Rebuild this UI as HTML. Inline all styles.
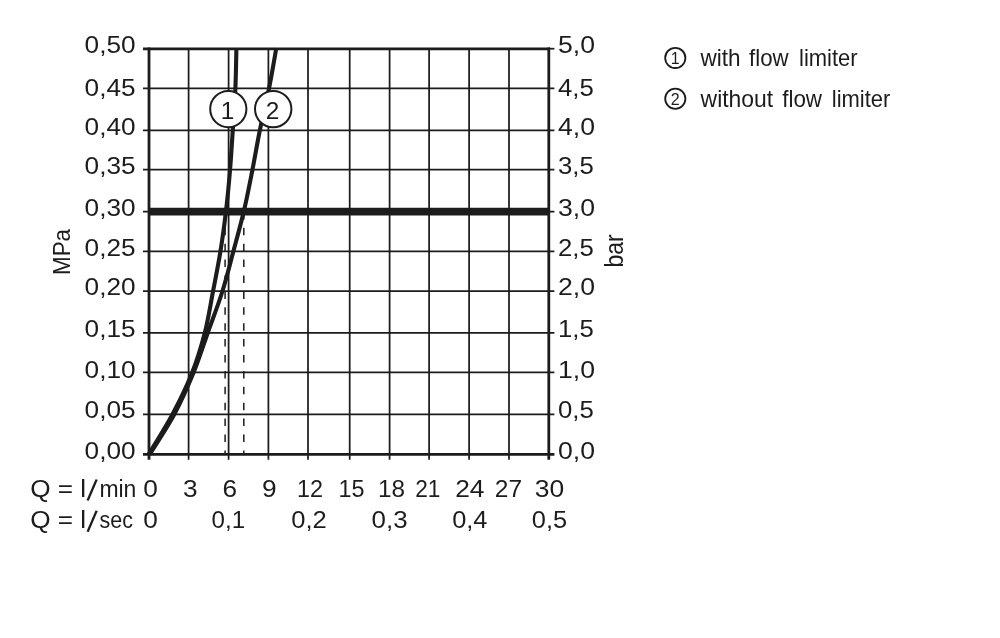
<!DOCTYPE html>
<html lang="en"><head><meta charset="utf-8"><title>Flow diagram</title>
<style>html,body{margin:0;padding:0;background:#fff;}svg{display:block;}text{font-family:'Liberation Sans', sans-serif;fill:#1c1c1c;}</style>
</head><body>
<svg width="1000" height="638" viewBox="0 0 1000 638">
<rect width="1000" height="638" fill="#fff"/>
<g stroke="#1c1c1c" stroke-width="1.75" fill="none">
<line x1="143.0" y1="88.40" x2="554.4" y2="88.40"/>
<line x1="143.0" y1="130.30" x2="554.4" y2="130.30"/>
<line x1="143.0" y1="169.50" x2="554.4" y2="169.50"/>
<line x1="143.0" y1="211.60" x2="554.4" y2="211.60"/>
<line x1="143.0" y1="251.30" x2="554.4" y2="251.30"/>
<line x1="143.0" y1="291.10" x2="554.4" y2="291.10"/>
<line x1="143.0" y1="332.90" x2="554.4" y2="332.90"/>
<line x1="143.0" y1="372.40" x2="554.4" y2="372.40"/>
<line x1="143.0" y1="414.40" x2="554.4" y2="414.40"/>
<line x1="188.6" y1="48.80" x2="188.6" y2="459.70"/>
<line x1="228.6" y1="48.80" x2="228.6" y2="459.70"/>
<line x1="268.4" y1="48.80" x2="268.4" y2="459.70"/>
<line x1="308.0" y1="48.80" x2="308.0" y2="459.70"/>
<line x1="349.7" y1="48.80" x2="349.7" y2="459.70"/>
<line x1="389.6" y1="48.80" x2="389.6" y2="459.70"/>
<line x1="429.1" y1="48.80" x2="429.1" y2="459.70"/>
<line x1="469.1" y1="48.80" x2="469.1" y2="459.70"/>
<line x1="509.0" y1="48.80" x2="509.0" y2="459.70"/>
</g>
<g stroke="#1c1c1c" fill="none">
<line x1="143.0" y1="48.80" x2="550.0" y2="48.80" stroke-width="2.8"/>
<line x1="143.0" y1="454.40" x2="554.4" y2="454.40" stroke-width="2.8"/>
<line x1="149.0" y1="47.50" x2="149.0" y2="459.70" stroke-width="2.8"/>
<line x1="548.8" y1="47.50" x2="548.8" y2="459.70" stroke-width="2.8"/>
</g>
<line x1="548.8" y1="48.70" x2="554.4" y2="48.70" stroke="#1c1c1c" stroke-width="1.75"/>
<line x1="149.0" y1="211.70" x2="548.8" y2="211.70" stroke="#1c1c1c" stroke-width="7.8"/>
<g stroke="#1c1c1c" stroke-width="1.5" stroke-dasharray="7.5 8.4" fill="none">
<line x1="225.1" y1="211.9" x2="225.1" y2="454.4"/>
<line x1="243.8" y1="211.9" x2="243.8" y2="454.4"/>
</g>
<g stroke="#1c1c1c" stroke-width="4.1" fill="none" stroke-linejoin="round">
<path d="M148.60 454.50 C152.57 447.83 165.17 428.08 172.40 414.50 C179.63 400.92 186.60 386.63 192.00 373.00 C197.40 359.37 201.32 346.20 204.80 332.70 C208.28 319.20 210.30 305.52 212.90 292.00 C215.50 278.48 218.22 265.10 220.40 251.60 C222.58 238.10 224.40 224.53 226.00 211.00 C227.60 197.47 228.87 183.98 230.00 170.40 C231.13 156.82 231.90 143.23 232.80 129.50 C233.70 115.77 234.80 101.55 235.40 88.00 C236.00 74.45 236.23 54.83 236.40 48.20"/>
<path d="M149.60 454.50 C153.70 447.83 166.90 428.08 174.20 414.50 C181.50 400.92 187.80 386.63 193.40 373.00 C199.00 359.37 203.00 346.20 207.80 332.70 C212.60 319.20 217.95 305.52 222.20 292.00 C226.45 278.48 229.68 265.10 233.30 251.60 C236.92 238.10 240.72 224.60 243.90 211.00 C247.08 197.40 249.72 183.58 252.40 170.00 C255.08 156.42 257.22 143.17 260.00 129.50 C262.78 115.83 266.38 101.55 269.10 88.00 C271.82 74.45 275.10 54.83 276.30 48.20"/>
</g>
<g stroke="#1c1c1c" stroke-width="2" fill="#fff">
<circle cx="228.3" cy="109.1" r="18.1"/>
<circle cx="273.2" cy="109.1" r="18.2"/>
</g>
<text x="227.5" y="118.5" font-size="24.4" text-anchor="middle">1</text>
<text x="272.6" y="118.5" font-size="24.4" text-anchor="middle">2</text>
<text x="135.6" y="52.8" font-size="23.5" text-anchor="end" textLength="51" lengthAdjust="spacingAndGlyphs">0,50</text>
<text x="135.6" y="95.6" font-size="23.5" text-anchor="end" textLength="51" lengthAdjust="spacingAndGlyphs">0,45</text>
<text x="135.6" y="134.5" font-size="23.5" text-anchor="end" textLength="51" lengthAdjust="spacingAndGlyphs">0,40</text>
<text x="135.6" y="174.0" font-size="23.5" text-anchor="end" textLength="51" lengthAdjust="spacingAndGlyphs">0,35</text>
<text x="135.6" y="215.7" font-size="23.5" text-anchor="end" textLength="51" lengthAdjust="spacingAndGlyphs">0,30</text>
<text x="135.6" y="255.8" font-size="23.5" text-anchor="end" textLength="51" lengthAdjust="spacingAndGlyphs">0,25</text>
<text x="135.6" y="295.3" font-size="23.5" text-anchor="end" textLength="51" lengthAdjust="spacingAndGlyphs">0,20</text>
<text x="135.6" y="337.0" font-size="23.5" text-anchor="end" textLength="51" lengthAdjust="spacingAndGlyphs">0,15</text>
<text x="135.6" y="377.7" font-size="23.5" text-anchor="end" textLength="51" lengthAdjust="spacingAndGlyphs">0,10</text>
<text x="135.6" y="418.3" font-size="23.5" text-anchor="end" textLength="51" lengthAdjust="spacingAndGlyphs">0,05</text>
<text x="135.6" y="458.5" font-size="23.5" text-anchor="end" textLength="51" lengthAdjust="spacingAndGlyphs">0,00</text>
<text x="558" y="52.8" font-size="23.5" textLength="37" lengthAdjust="spacingAndGlyphs">5,0</text>
<text x="558" y="95.6" font-size="23.5" textLength="35.8" lengthAdjust="spacingAndGlyphs">4,5</text>
<text x="558" y="134.5" font-size="23.5" textLength="37" lengthAdjust="spacingAndGlyphs">4,0</text>
<text x="558" y="174.0" font-size="23.5" textLength="35.8" lengthAdjust="spacingAndGlyphs">3,5</text>
<text x="558" y="215.7" font-size="23.5" textLength="37" lengthAdjust="spacingAndGlyphs">3,0</text>
<text x="558" y="255.8" font-size="23.5" textLength="35.8" lengthAdjust="spacingAndGlyphs">2,5</text>
<text x="558" y="295.3" font-size="23.5" textLength="37" lengthAdjust="spacingAndGlyphs">2,0</text>
<text x="558" y="337.0" font-size="23.5" textLength="35.8" lengthAdjust="spacingAndGlyphs">1,5</text>
<text x="558" y="377.7" font-size="23.5" textLength="37" lengthAdjust="spacingAndGlyphs">1,0</text>
<text x="558" y="418.3" font-size="23.5" textLength="35.8" lengthAdjust="spacingAndGlyphs">0,5</text>
<text x="558" y="458.5" font-size="23.5" textLength="37" lengthAdjust="spacingAndGlyphs">0,0</text>
<text transform="translate(70,275) rotate(-90)" font-size="24" textLength="46" lengthAdjust="spacingAndGlyphs">MPa</text>
<text transform="translate(622.6,267.6) rotate(-90)" font-size="25" textLength="33.4" lengthAdjust="spacingAndGlyphs">bar</text>
<text y="496.8" font-size="23.5"><tspan x="30.2" textLength="56" lengthAdjust="spacingAndGlyphs">Q = l</tspan><tspan x="86.6" dy="3.2" font-size="30" rotate="8">/</tspan><tspan x="99.4" dy="-3.2" textLength="37" lengthAdjust="spacingAndGlyphs">min</tspan></text>
<text y="528" font-size="23.5"><tspan x="30.2" textLength="56" lengthAdjust="spacingAndGlyphs">Q = l</tspan><tspan x="86.6" dy="3.2" font-size="30" rotate="8">/</tspan><tspan x="99.6" dy="-3.2" textLength="33.4" lengthAdjust="spacingAndGlyphs">sec</tspan></text>
<text x="150.5" y="496.8" font-size="23.5" text-anchor="middle" textLength="14.6" lengthAdjust="spacingAndGlyphs">0</text>
<text x="190.3" y="496.8" font-size="23.5" text-anchor="middle" textLength="14.6" lengthAdjust="spacingAndGlyphs">3</text>
<text x="229.9" y="496.8" font-size="23.5" text-anchor="middle" textLength="14.6" lengthAdjust="spacingAndGlyphs">6</text>
<text x="269.2" y="496.8" font-size="23.5" text-anchor="middle" textLength="14.6" lengthAdjust="spacingAndGlyphs">9</text>
<text x="310.1" y="496.8" font-size="23.5" text-anchor="middle" textLength="26.0" lengthAdjust="spacingAndGlyphs">12</text>
<text x="351.5" y="496.8" font-size="23.5" text-anchor="middle" textLength="26.0" lengthAdjust="spacingAndGlyphs">15</text>
<text x="391.6" y="496.8" font-size="23.5" text-anchor="middle" textLength="27.0" lengthAdjust="spacingAndGlyphs">18</text>
<text x="427.8" y="496.8" font-size="23.5" text-anchor="middle" textLength="25.2" lengthAdjust="spacingAndGlyphs">21</text>
<text x="469.8" y="496.8" font-size="23.5" text-anchor="middle" textLength="29.3" lengthAdjust="spacingAndGlyphs">24</text>
<text x="508.4" y="496.8" font-size="23.5" text-anchor="middle" textLength="27.3" lengthAdjust="spacingAndGlyphs">27</text>
<text x="549.4" y="496.8" font-size="23.5" text-anchor="middle" textLength="29.4" lengthAdjust="spacingAndGlyphs">30</text>
<text x="150.5" y="528" font-size="23.5" text-anchor="middle" textLength="14.6" lengthAdjust="spacingAndGlyphs">0</text>
<text x="228.3" y="528" font-size="23.5" text-anchor="middle" textLength="33.5" lengthAdjust="spacingAndGlyphs">0,1</text>
<text x="309.0" y="528" font-size="23.5" text-anchor="middle" textLength="35.5" lengthAdjust="spacingAndGlyphs">0,2</text>
<text x="389.6" y="528" font-size="23.5" text-anchor="middle" textLength="36.0" lengthAdjust="spacingAndGlyphs">0,3</text>
<text x="469.8" y="528" font-size="23.5" text-anchor="middle" textLength="35.3" lengthAdjust="spacingAndGlyphs">0,4</text>
<text x="549.5" y="528" font-size="23.5" text-anchor="middle" textLength="35.3" lengthAdjust="spacingAndGlyphs">0,5</text>
<g stroke="#1c1c1c" stroke-width="1.8" fill="none">
<circle cx="675.3" cy="57.9" r="10.1"/>
<circle cx="675.3" cy="98.7" r="10.1"/>
</g>
<text x="675.1" y="64.4" font-size="16" text-anchor="middle">1</text>
<text x="675.3" y="105.2" font-size="16" text-anchor="middle">2</text>
<text y="66.1" font-size="24"><tspan x="700.6" textLength="40" lengthAdjust="spacingAndGlyphs">with</tspan> <tspan x="749" textLength="39.6" lengthAdjust="spacingAndGlyphs">flow</tspan> <tspan x="799" textLength="58.6" lengthAdjust="spacingAndGlyphs">limiter</tspan></text>
<text y="106.5" font-size="24"><tspan x="700.6" textLength="72.6" lengthAdjust="spacingAndGlyphs">without</tspan> <tspan x="782.2" textLength="39.8" lengthAdjust="spacingAndGlyphs">flow</tspan> <tspan x="831.8" textLength="58.6" lengthAdjust="spacingAndGlyphs">limiter</tspan></text>
</svg>
</body></html>
